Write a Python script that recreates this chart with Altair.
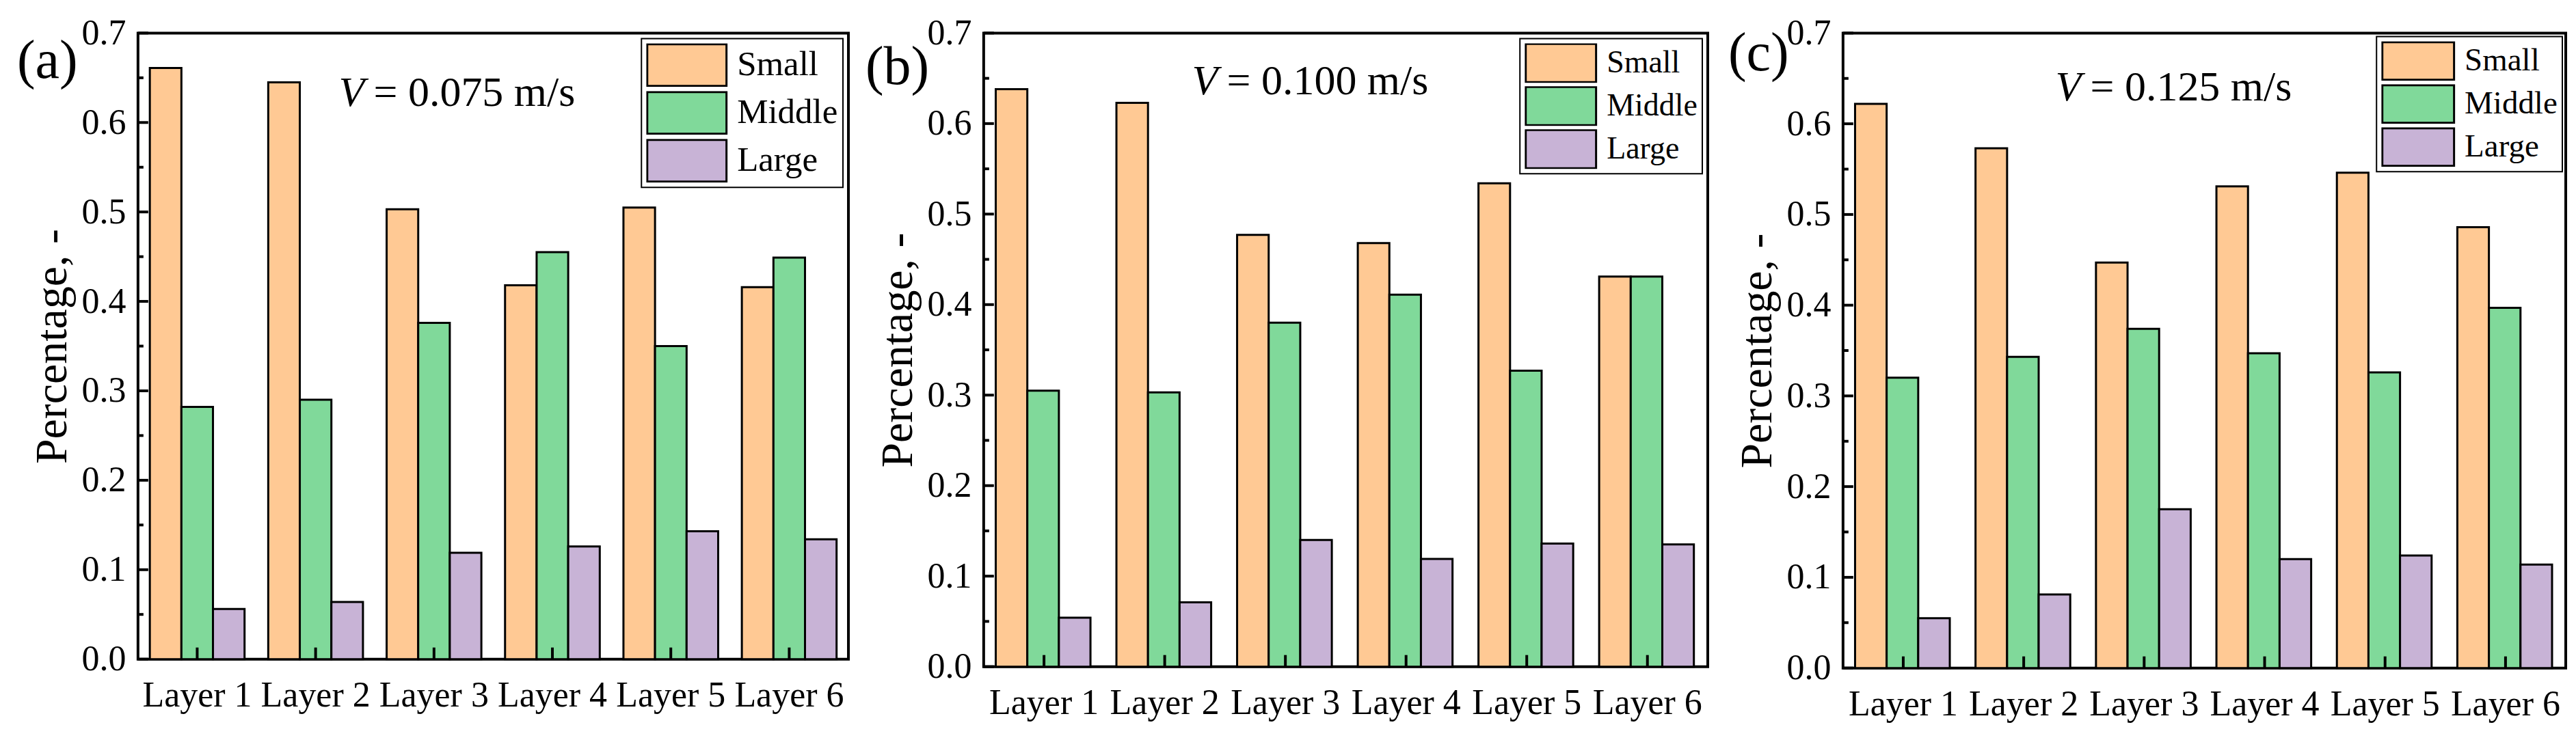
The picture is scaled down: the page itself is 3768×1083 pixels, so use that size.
import altair as alt
import pandas as pd

FONT = "Liberation Serif"

layers = ["Layer 1", "Layer 2", "Layer 3", "Layer 4", "Layer 5", "Layer 6"]
sizes = ["Small", "Middle", "Large"]
colors = ["#FFC994", "#80D99A", "#C8B3D6"]

small_a = [0.661, 0.645, 0.503, 0.418, 0.505, 0.416]
middle_a = [0.282, 0.290, 0.376, 0.455, 0.350, 0.449]
large_a = [0.056, 0.064, 0.119, 0.126, 0.143, 0.134]

small_b = [0.638, 0.623, 0.477, 0.468, 0.534, 0.431]
middle_b = [0.305, 0.303, 0.380, 0.411, 0.327, 0.431]
large_b = [0.054, 0.071, 0.140, 0.119, 0.136, 0.135]

small_c = [0.622, 0.573, 0.447, 0.531, 0.546, 0.486]
middle_c = [0.320, 0.343, 0.374, 0.347, 0.326, 0.397]
large_c = [0.055, 0.081, 0.175, 0.120, 0.124, 0.114]

panel_labels = ["(a)", "(b)", "(c)"]
speed_texts = ["= 0.075 m/s", "= 0.100 m/s", "= 0.125 m/s"]
y_major = [0.0, 0.1, 0.2, 0.3, 0.4, 0.5, 0.6, 0.7]
y_minor = [0.05, 0.15, 0.25, 0.35, 0.45, 0.55, 0.65]


def panel(small, middle, large, label, speed, w, h, lab_x, lab_y, v_x, v_y,
          sym_w, sym_h, leg_font, leg_off, clip_h, row_pad):
    df = pd.DataFrame({
        "layer": layers * 3,
        "size": [s for s in sizes for _ in layers],
        "value": small + middle + large,
    })
    yscale = alt.Scale(domain=[0, 0.7], nice=False, zero=True)
    xscale = alt.Scale(paddingInner=0.2, paddingOuter=0.1)
    r = sym_h / sym_w
    path = f"M-1,-{r:.3f}H1V{r:.3f}H-1Z"

    bars = alt.Chart(df).mark_bar(stroke="black", strokeWidth=3, opacity=1).encode(
        x=alt.X("layer:N", sort=layers, scale=xscale,
                axis=alt.Axis(title=None, orient="bottom", ticks=False, tickSize=0,
                              domain=False, labelAngle=0, labelFont=FONT,
                              labelFontSize=52, labelPadding=28, labelColor="black",
                              grid=False)),
        xOffset=alt.XOffset("size:N", sort=sizes,
                            scale=alt.Scale(paddingInner=0, paddingOuter=0)),
        y=alt.Y("value:Q", scale=yscale,
                axis=alt.Axis(title="Percentage, -", orient="left", values=y_major,
                              format=".1f", ticks=False, tickSize=0, domain=False,
                              labelFont=FONT, labelFontSize=52, labelPadding=18,
                              labelColor="black", labelFlush=False, labelOverlap=False,
                              titleFont=FONT, titleFontSize=66, titleFontWeight="normal",
                              titleColor="black", titlePadding=8, minExtent=83,
                              maxExtent=83, grid=False)),
        color=alt.Color("size:N", sort=sizes,
                        scale=alt.Scale(domain=sizes, range=colors),
                        legend=alt.Legend(title=None, orient="top-right", offset=leg_off,
                                          symbolType=path, symbolSize=sym_w ** 2,
                                          symbolStrokeColor="black", symbolStrokeWidth=3,
                                          symbolOpacity=1, labelFont=FONT,
                                          labelFontSize=leg_font, labelColor="black",
                                          labelOffset=14, rowPadding=row_pad, padding=7,
                                          clipHeight=clip_h,
                                          strokeColor="black", fillColor="white",
                                          cornerRadius=0)),
    )

    ymaj = alt.Chart(pd.DataFrame({"value": y_major})).mark_rule(
        color="black", strokeWidth=4
    ).encode(y=alt.Y("value:Q", scale=yscale), x=alt.value(0), x2=alt.value(15))

    ymin = alt.Chart(pd.DataFrame({"value": y_minor})).mark_rule(
        color="black", strokeWidth=4
    ).encode(y=alt.Y("value:Q", scale=yscale), x=alt.value(0), x2=alt.value(8))

    xt = alt.Chart(pd.DataFrame({"layer": layers})).mark_rule(
        color="black", strokeWidth=4
    ).encode(x=alt.X("layer:N", sort=layers, scale=xscale),
             y=alt.value(h), y2=alt.value(h - 17))

    lab = alt.Chart(pd.DataFrame({"t": [label]})).mark_text(
        font=FONT, fontSize=80, align="left", baseline="alphabetic", color="black"
    ).encode(text="t:N", x=alt.value(lab_x), y=alt.value(lab_y))

    vtxt = alt.Chart(pd.DataFrame({"t": ["V"]})).mark_text(
        font=FONT, fontSize=62, fontStyle="italic", align="left",
        baseline="alphabetic", color="black"
    ).encode(text="t:N", x=alt.value(v_x), y=alt.value(v_y))

    stxt = alt.Chart(pd.DataFrame({"t": [speed]})).mark_text(
        font=FONT, fontSize=62, align="left", baseline="alphabetic", color="black"
    ).encode(text="t:N", x=alt.value(v_x + 51), y=alt.value(v_y))

    return alt.layer(bars, ymaj, ymin, xt, lab, vtxt, stxt).properties(width=w, height=h)


pa = panel(small_a, middle_a, large_a, panel_labels[0], speed_texts[0],
           1040, 917, -177, 66, 294, 107, 116, 61, 51, 8, 64, 6)
pb = panel(small_b, middle_b, large_b, panel_labels[1], speed_texts[1],
           1060, 928, -173, 75, 305, 90, 103, 56, 46, 8, 58, 5)
pc = panel(small_c, middle_c, large_c, panel_labels[2], speed_texts[2],
           1058, 930, -168, 55, 311, 99, 105, 55, 47, 5, 58, 5)

chart = alt.hconcat(pa, pb, pc, spacing=198, bounds="flush").resolve_scale(
    color="independent"
).properties(
    padding={"left": 15, "top": 12, "right": 5, "bottom": 0},
    background="white",
).configure_view(
    stroke="black", strokeWidth=4
).configure_legend(
    strokeWidth=2
)

chart.save("out.html", embed_options={"renderer": "svg", "actions": False})
